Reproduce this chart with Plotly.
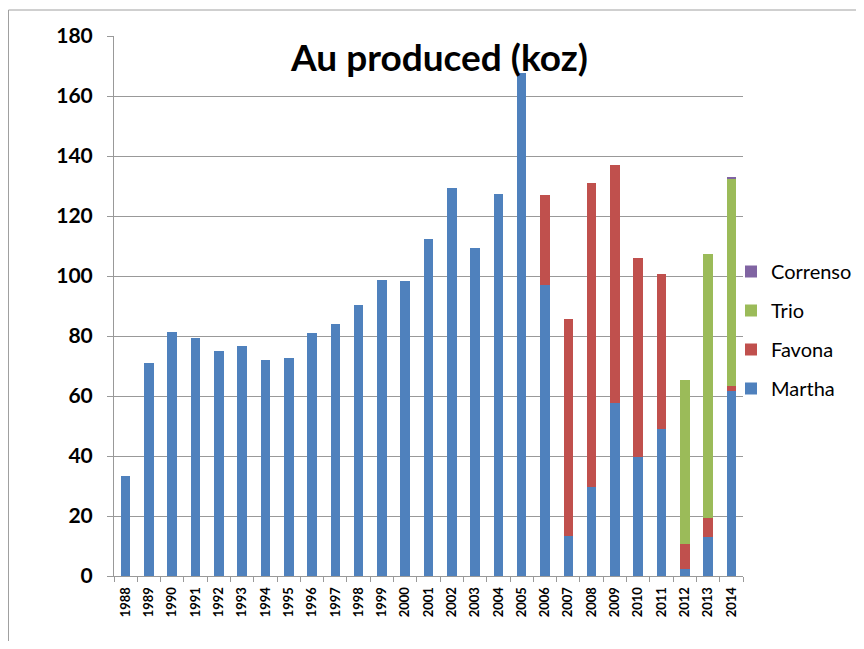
import plotly.graph_objects as go

years = [str(y) for y in range(1988, 2015)]
martha = [33.3, 71, 81.5, 79.3, 75, 76.7, 72, 72.7, 81, 84, 90.5, 98.7, 98.5, 112.5,
          129.3, 109.5, 127.5, 167.7, 97.1, 13.3, 29.8, 57.8, 39.8, 48.9, 2.2, 12.9, 61.8]
favona = [0]*18 + [30, 72.3, 101.2, 79.2, 66.1, 51.7, 8.6, 6.3, 1.5]
trio = [0]*24 + [54.5, 88.1, 69.1]
correnso = [0]*26 + [0.6]

series = [("Martha", martha, "#4F81BD"), ("Favona", favona, "#C0504D"),
          ("Trio", trio, "#9BBB59"), ("Correnso", correnso, "#8064A2")]

FONT = "Lato"
fig = go.Figure()
n = len(series)
for i, (name, vals, col) in enumerate(series):
    fig.add_trace(go.Bar(x=years, y=vals, name=name, marker_color=col,
                         marker_line_width=0, legendgroup=name, legendrank=n - i))

OFF = 8  # page body margin
PL, PR, PT, PB = 114, 743, 36, 576  # plot area in screen pixels
pw, ph = PR - PL, PB - PT
W, H = 848, 633
L, T = PL - OFF, PT - OFF
R = W - L - pw
B = H - T - ph


def px(x):
    return (x - PL) / pw


def py(y):
    return (PB - y) / ph


fig.update_layout(
    width=W, height=H, barmode="stack", bargap=0.59,
    margin=dict(l=L, r=R, t=T, b=B, pad=0, autoexpand=False),
    paper_bgcolor="white", plot_bgcolor="white",
    font=dict(family=FONT, color="black"),
    legend=dict(x=px(731), xanchor="left", y=py(252), yanchor="top",
                traceorder="grouped", font=dict(size=20, family=FONT),
                tracegroupgap=10, itemwidth=30, bgcolor="rgba(0,0,0,0)"),
    annotations=[dict(text="<b>Au produced (koz)</b>", x=px(439), y=py(57),
                      xref="paper", yref="paper", showarrow=False,
                      font=dict(size=37, family=FONT, color="black"),
                      xanchor="center", yanchor="middle")],
    shapes=[dict(type="rect", xref="paper", yref="paper",
                 x0=px(8.5), x1=px(920), y0=py(720), y1=py(10),
                 line=dict(color="#A0A0A0", width=1), fillcolor="rgba(0,0,0,0)", layer="below")],
)
fig.update_yaxes(range=[0, 180], dtick=20, showgrid=True, gridcolor="#999999", gridwidth=1,
                 showline=True, linecolor="#999999", linewidth=1,
                 ticks="outside", ticklen=6, tickcolor="#999999",
                 tickfont=dict(size=21, family=FONT, color="black"),
                 tickprefix="<b>", ticksuffix="</b>", ticklabelstandoff=10, zeroline=False)
fig.update_xaxes(type="category", showline=True, linecolor="#999999", linewidth=1,
                 ticks="outside", ticklen=5, tickcolor="#999999", tickson="boundaries",
                 tickangle=-90, tickfont=dict(size=13, family=FONT, color="black"),
                 tickprefix="<b>", ticksuffix="</b>", ticklabelstandoff=5)

fig.write_html("out.html")
